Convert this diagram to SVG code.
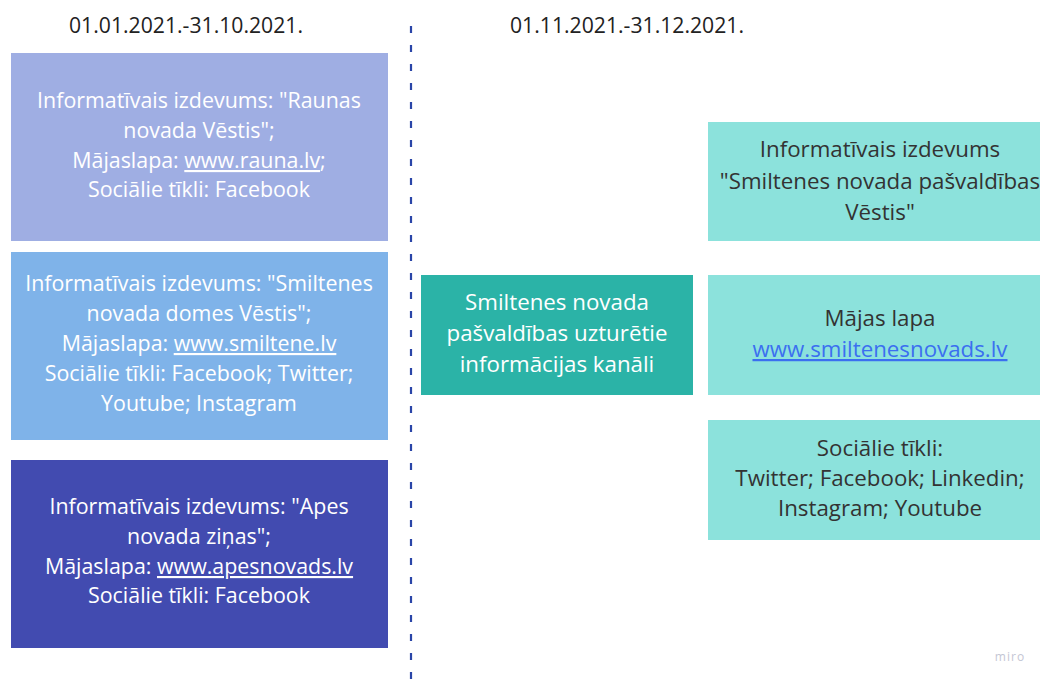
<svg xmlns="http://www.w3.org/2000/svg" width="1040" height="682" viewBox="0 0 1040 682">
<style>
text{font-family:"Open Sans","Noto Sans","Liberation Sans",sans-serif;font-size:21.4px;text-anchor:middle}
.w{fill:#ffffff}
.d{fill:#333333}
.r{font-size:22.3px}
.h{fill:#222222;font-size:21.2px}
.u{text-decoration:underline}
.lnk{fill:#3b6ff0;text-decoration:underline}
</style>
<rect width="1040" height="682" fill="#ffffff"/>
<g id="connectors">
<line x1="411" y1="26" x2="411" y2="682" stroke="#2a45a8" stroke-width="2.2" stroke-dasharray="7 12"/>
</g>
<g id="header-left"><text class="h" x="186" y="33">01.01.2021.-31.10.2021.</text></g>
<g id="header-right"><text class="h" x="627" y="33">01.11.2021.-31.12.2021.</text></g>
<g id="rauna">
<rect x="11" y="53" width="377" height="188" fill="#9faee3"/>
<text class="w" x="199" y="108">Informatīvais izdevums: "Raunas</text>
<text class="w" x="199" y="138">novada Vēstis";</text>
<text class="w" x="199" y="168">Mājaslapa: <tspan class="u">www.rauna.lv</tspan>;</text>
<text class="w" x="199" y="197">Sociālie tīkli: Facebook</text>
</g>
<g id="smiltene">
<rect x="11" y="252" width="377" height="188" fill="#7fb3e9"/>
<text class="w" x="199" y="291">Informatīvais izdevums: "Smiltenes</text>
<text class="w" x="199" y="321">novada domes Vēstis";</text>
<text class="w" x="199" y="351">Mājaslapa: <tspan class="u">www.smiltene.lv</tspan></text>
<text class="w" x="199" y="381">Sociālie tīkli: Facebook; Twitter;</text>
<text class="w" x="199" y="411">Youtube; Instagram</text>
</g>
<g id="apes">
<rect x="11" y="460" width="377" height="188" fill="#424bb0"/>
<text class="w" x="199" y="514">Informatīvais izdevums: "Apes</text>
<text class="w" x="199" y="544">novada ziņas";</text>
<text class="w" x="199" y="574">Mājaslapa: <tspan class="u">www.apesnovads.lv</tspan></text>
<text class="w" x="199" y="603">Sociālie tīkli: Facebook</text>
</g>
<g id="center">
<rect x="421" y="275" width="272" height="120" fill="#2bb3a7"/>
<text class="w r" x="557" y="310">Smiltenes novada</text>
<text class="w r" x="557" y="341">pašvaldības uzturētie</text>
<text class="w r" x="557" y="372">informācijas kanāli</text>
</g>
<g id="vestis">
<rect x="708" y="122" width="344" height="119" fill="#8ce2dc"/>
<text class="d r" x="880" y="157">Informatīvais izdevums</text>
<text class="d r" x="880" y="189">"Smiltenes novada pašvaldības</text>
<text class="d r" x="880" y="220">Vēstis"</text>
</g>
<g id="majaslapa">
<rect x="708" y="275" width="344" height="120" fill="#8ce2dc"/>
<text class="d r" x="880" y="326">Mājas lapa</text>
<text class="lnk r" x="880" y="357">www.smiltenesnovads.lv</text>
</g>
<g id="socialie">
<rect x="708" y="420" width="344" height="120" fill="#8ce2dc"/>
<text class="d r" x="880" y="456">Sociālie tīkli:</text>
<text class="d r" x="880" y="486">Twitter; Facebook; Linkedin;</text>
<text class="d r" x="880" y="516">Instagram; Youtube</text>
</g>
<g id="watermark"><text x="1010" y="661" style="font-size:12px;fill:#c4c6d4;letter-spacing:1px">miro</text></g>
</svg>
